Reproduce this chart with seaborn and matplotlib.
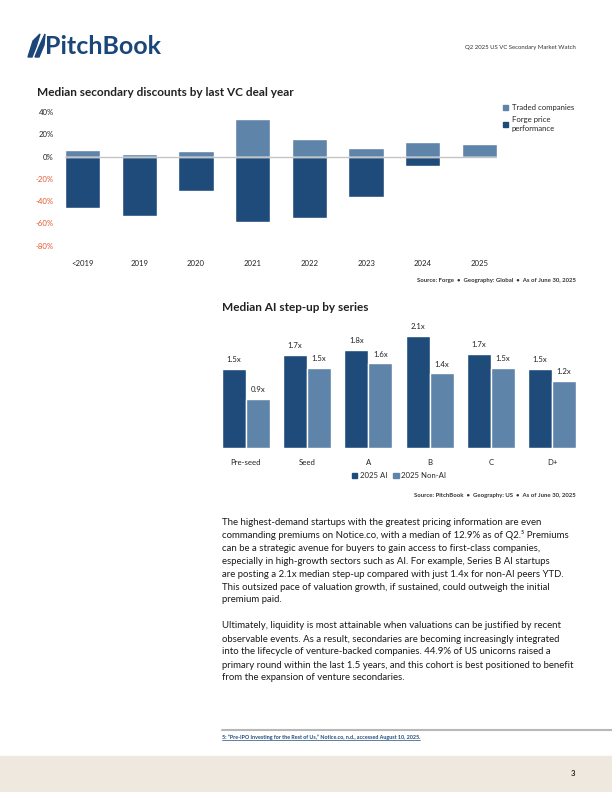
import numpy as np
import pandas as pd
import seaborn as sns
import matplotlib.pyplot as plt
from matplotlib.patches import Patch, Polygon, Rectangle
from matplotlib.lines import Line2D

# chart 1 data: median secondary discounts by last VC deal year (%)
years = ['<2019', '2019', '2020', '2021', '2022', '2023', '2024', '2025']
traded = [6, 2, 5, 34, 16, 8, 13, 11]
forge = [-46, -53, -31, -59, -55, -36, -8, 0]

# chart 2 data: median AI step-up by series
series = ['Pre-seed', 'Seed', 'A', 'B', 'C', 'D+']
ai = [1.50, 1.77, 1.87, 2.13, 1.79, 1.50]
non_ai = [0.93, 1.52, 1.61, 1.42, 1.52, 1.27]
ai_labels = ['1.5x', '1.7x', '1.8x', '2.1x', '1.7x', '1.5x']
non_ai_labels = ['0.9x', '1.5x', '1.6x', '1.4x', '1.5x', '1.2x']

DARK = '#1f4b7b'
LIGHT = '#5f84a9'
RED = '#e4572e'
TXT = '#222222'

sns.set_theme(style='white')
plt.rcParams['font.family'] = ['Lato', 'DejaVu Sans']

fig = plt.figure(figsize=(6.12, 7.92), dpi=100)


def fx(x):
    return x / 612


def fy(y):
    return 1 - y / 792


# header
fig.add_artist(Polygon([(fx(28), fy(57)), (fx(33), fy(41)), (fx(40), fy(34)), (fx(36), fy(47)), (fx(32), fy(57))],
                       closed=True, transform=fig.transFigure, color='#1b4679'))
fig.add_artist(Polygon([(fx(35), fy(57)), (fx(39), fy(47)), (fx(45), fy(34)), (fx(44), fy(45)), (fx(39), fy(57))],
                       closed=True, transform=fig.transFigure, color='#1b4679'))
fig.text(fx(45), fy(46), 'PitchBook', fontsize=18, color='#1b4679', va='center', ha='left', weight='bold')
fig.text(fx(576), fy(47), 'Q2 2025 US VC Secondary Market Watch', ha='right', va='center',
         fontsize=4.3, color='#333333')

# ---- chart 1 ----
fig.text(fx(37), fy(93), 'Median secondary discounts by last VC deal year', fontsize=8.5,
         weight='bold', va='center', color=TXT)
ax1 = fig.add_axes([fx(65), fy(251.3), fx(497) - fx(65), (251.3 - 106.6) / 792])
df1 = pd.DataFrame({'year': years, 'traded': traded, 'forge': forge})
sns.barplot(data=df1, x='year', y='traded', color=LIGHT, width=0.62, saturation=1, ax=ax1)
sns.barplot(data=df1, x='year', y='forge', color=DARK, width=0.62, saturation=1, ax=ax1)
ax1.axhline(0, color='#c4c4c4', lw=1, zorder=5)
ax1.set_xlim(-0.31, 7.31)
ax1.set_ylim(-85, 45)
yt = [-80, -60, -40, -20, 0, 20, 40]
ax1.set_yticks(yt)
ax1.set_yticklabels([f'{v}%' for v in yt])
for lab, v in zip(ax1.get_yticklabels(), yt):
    lab.set_color(RED if v < 0 else TXT)
for lab in ax1.get_xticklabels():
    lab.set_color(TXT)
ax1.tick_params(axis='x', length=0, labelsize=5.6, pad=6)
ax1.tick_params(axis='y', length=0, labelsize=5.6, pad=8)
ax1.set_xlabel('')
ax1.set_ylabel('')
sns.despine(ax=ax1, left=True, bottom=True)
ax1.legend(handles=[Patch(color=LIGHT, label='Traded companies'),
                    Patch(color=DARK, label='Forge price\nperformance')],
           loc='upper left', bbox_to_anchor=(fx(503), fy(104)), bbox_transform=fig.transFigure,
           frameon=False, fontsize=5.6, handlelength=0.7, handleheight=0.7, handletextpad=0.4,
           labelspacing=0.7, borderpad=0, borderaxespad=0)
fig.text(fx(576), fy(280), 'Source: Forge  \u2022  Geography: Global  \u2022  As of June 30, 2025',
         ha='right', va='center', fontsize=4.3, weight='bold', color='#333333')

# ---- chart 2 ----
fig.text(fx(222), fy(308), 'Median AI step-up by series', fontsize=8.5, weight='bold',
         va='center', color=TXT)
ax2 = fig.add_axes([fx(222), fy(447.7), fx(576) - fx(222), 126 / 792])
df2 = pd.DataFrame({
    'series': series * 2,
    'value': ai + non_ai,
    'group': ['2025 AI'] * len(series) + ['2025 Non-AI'] * len(series),
})
sns.barplot(data=df2, x='series', y='value', hue='group', palette=[DARK, LIGHT], width=0.78,
            saturation=1, gap=0, ax=ax2, legend=False)
for cont, labs in zip(ax2.containers, [ai_labels, non_ai_labels]):
    ax2.bar_label(cont, labels=labs, padding=4, fontsize=5.6, color=TXT)
ax2.set_xlim(-0.39, 5.39)
ax2.set_ylim(0, 2.4)
ax2.set_yticks([])
ax2.set_xlabel('')
ax2.set_ylabel('')
ax2.tick_params(axis='x', length=0, labelsize=5.6, pad=8, labelcolor=TXT)
sns.despine(ax=ax2, left=True, bottom=True)
ax2.legend(handles=[Patch(color=DARK, label='2025 AI'), Patch(color=LIGHT, label='2025 Non-AI')],
           loc='upper center', bbox_to_anchor=(fx(399), fy(472)), bbox_transform=fig.transFigure,
           ncol=2, frameon=False, fontsize=5.6, handlelength=0.7, handleheight=0.7,
           handletextpad=0.3, columnspacing=0.8, borderpad=0, borderaxespad=0)
fig.text(fx(576), fy(496), 'Source: PitchBook  \u2022  Geography: US  \u2022  As of June 30, 2025',
         ha='right', va='center', fontsize=4.3, weight='bold', color='#333333')

# ---- body text ----
para1 = [
    'The highest-demand startups with the greatest pricing information are even',
    'commanding premiums on Notice.co, with a median of 12.9% as of Q2.\u2075 Premiums',
    'can be a strategic avenue for buyers to gain access to first-class companies,',
    'especially in high-growth sectors such as AI. For example, Series B AI startups',
    'are posting a 2.1x median step-up compared with just 1.4x for non-AI peers YTD.',
    'This outsized pace of valuation growth, if sustained, could outweigh the initial',
    'premium paid.',
]
para2 = [
    'Ultimately, liquidity is most attainable when valuations can be justified by recent',
    'observable events. As a result, secondaries are becoming increasingly integrated',
    'into the lifecycle of venture-backed companies. 44.9% of US unicorns raised a',
    'primary round within the last 1.5 years, and this cohort is best positioned to benefit',
    'from the expansion of venture secondaries.',
]
for i, line in enumerate(para1):
    fig.text(fx(222), fy(522.3 + i * 12.95), line, fontsize=6.95, va='center', color='#1a1a1a')
for i, line in enumerate(para2):
    fig.text(fx(222), fy(626 + i * 13.0), line, fontsize=6.95, va='center', color='#1a1a1a')

# ---- footer ----
fig.add_artist(Line2D([fx(222), 1], [fy(730), fy(730)], transform=fig.transFigure,
                      color='#b8b8b8', lw=1.5))
note = fig.text(fx(222), fy(737), '5: \u201cPre-IPO Investing for the Rest of Us,\u201d Notice.co, n.d., accessed August 10, 2025.',
                fontsize=3.85, weight='bold', va='center', color=DARK)
fig.canvas.draw()
bb = note.get_window_extent(fig.canvas.get_renderer()).transformed(fig.transFigure.inverted())
fig.add_artist(Line2D([bb.x0, bb.x1], [bb.y0, bb.y0], transform=fig.transFigure, color=DARK, lw=0.5))
fig.add_artist(Rectangle((0, 0), 1, fy(756), transform=fig.transFigure, color='#efe8de', zorder=0))
fig.text(fx(573), fy(774), '3', fontsize=5.5, weight='bold', ha='center', va='center', color=TXT)

fig.savefig('out.png', dpi=100)
